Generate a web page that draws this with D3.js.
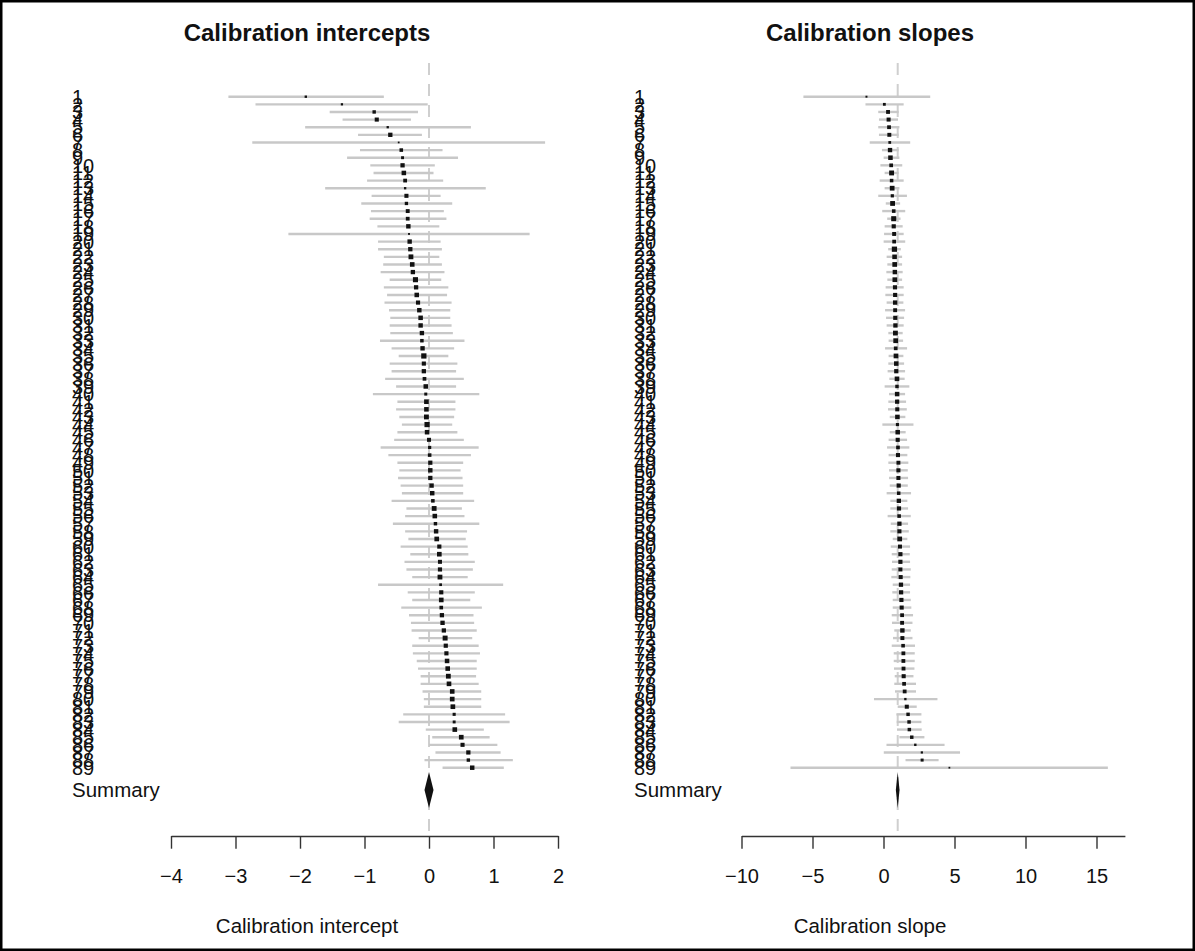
<!DOCTYPE html>
<html><head><meta charset="utf-8">
<script src="https://cdn.jsdelivr.net/npm/d3@7"></script>
<style>body{margin:0;background:#fff}svg{display:block}</style>
</head><body><svg id="c" width="1195" height="951"></svg>
<script>
// ---- data ----
const rowLabels = d3.range(1, 90).map(String);
const summaryLabel = "Summary";

const interceptEst = [-1.91,-1.35,-0.85,-0.81,-0.64,-0.60,-0.47,-0.43,-0.41,-0.41,
 -0.39,-0.37,-0.37,-0.35,-0.35,-0.33,-0.33,-0.32,-0.31,-0.30,
 -0.29,-0.28,-0.26,-0.25,-0.21,-0.20,-0.19,-0.17,-0.15,-0.13,
 -0.13,-0.11,-0.11,-0.10,-0.08,-0.08,-0.08,-0.07,-0.05,-0.05,
 -0.04,-0.04,-0.04,-0.03,-0.03,0.00,0.01,0.01,0.02,0.02,
 0.02,0.04,0.05,0.06,0.08,0.09,0.10,0.11,0.12,0.16,
 0.16,0.17,0.17,0.17,0.18,0.19,0.19,0.19,0.20,0.21,
 0.23,0.25,0.26,0.27,0.28,0.29,0.30,0.31,0.36,0.36,
 0.37,0.39,0.39,0.40,0.50,0.52,0.61,0.61,0.67];
const interceptLo = [-3.11,-2.69,-1.54,-1.34,-1.92,-1.10,-2.74,-1.07,-1.27,-0.91,
 -0.86,-0.96,-1.61,-0.89,-1.05,-0.90,-0.92,-0.80,-2.18,-0.79,
 -0.79,-0.70,-0.71,-0.75,-0.61,-0.70,-0.65,-0.69,-0.62,-0.60,
 -0.61,-0.60,-0.76,-0.58,-0.47,-0.61,-0.58,-0.68,-0.51,-0.87,
 -0.49,-0.51,-0.46,-0.42,-0.49,-0.54,-0.75,-0.63,-0.49,-0.46,
 -0.48,-0.44,-0.42,-0.58,-0.35,-0.37,-0.56,-0.37,-0.32,-0.44,
 -0.29,-0.38,-0.35,-0.26,-0.79,-0.33,-0.26,-0.43,-0.31,-0.28,
 -0.27,-0.16,-0.26,-0.25,-0.19,-0.17,-0.13,-0.13,-0.10,-0.08,
 -0.08,-0.40,-0.47,-0.05,0.05,0.00,0.10,-0.07,0.21];
const interceptHi = [-0.70,-0.02,-0.17,-0.28,0.65,-0.11,1.80,0.21,0.45,0.09,
 0.07,0.22,0.88,0.18,0.36,0.23,0.27,0.16,1.56,0.18,
 0.20,0.16,0.20,0.24,0.19,0.30,0.28,0.35,0.33,0.33,
 0.35,0.37,0.55,0.39,0.30,0.44,0.42,0.54,0.42,0.78,
 0.41,0.41,0.39,0.36,0.44,0.54,0.77,0.65,0.53,0.49,
 0.52,0.53,0.53,0.70,0.51,0.55,0.78,0.59,0.57,0.60,
 0.61,0.71,0.68,0.60,1.15,0.71,0.64,0.82,0.69,0.70,
 0.74,0.67,0.77,0.79,0.74,0.74,0.73,0.77,0.81,0.81,
 0.81,1.18,1.25,0.85,0.94,1.06,1.11,1.30,1.16];
const interceptSummary = [0.00, -0.07, 0.07]; // estimate, lower, upper

const slopeEst = [-1.20,0.06,0.32,0.36,0.39,0.41,0.44,0.46,0.49,0.54,
 0.57,0.57,0.61,0.62,0.64,0.72,0.72,0.72,0.75,0.75,
 0.77,0.78,0.79,0.80,0.80,0.81,0.82,0.82,0.82,0.83,
 0.84,0.84,0.86,0.86,0.88,0.90,0.90,0.95,0.95,0.96,
 0.96,0.97,0.98,0.98,1.00,1.00,1.02,1.02,1.05,1.05,
 1.05,1.07,1.07,1.08,1.09,1.10,1.12,1.12,1.14,1.16,
 1.19,1.19,1.19,1.21,1.23,1.24,1.26,1.28,1.31,1.31,
 1.33,1.33,1.38,1.40,1.40,1.41,1.42,1.45,1.49,1.54,
 1.64,1.73,1.80,1.82,1.99,2.24,2.70,2.72,4.64];
const slopeLo = [-5.64,-1.27,-0.37,-0.32,-0.37,-0.32,-0.97,-0.11,0.01,-0.22,
 0.08,-0.27,0.08,-0.37,0.16,-0.09,0.26,0.08,0.04,0.01,
 0.33,0.22,0.27,0.20,0.27,0.15,0.13,0.22,0.11,0.18,
 0.22,0.34,0.36,0.11,0.36,0.34,0.29,0.41,0.08,0.39,
 0.34,0.32,0.44,-0.08,0.44,0.36,0.25,0.36,0.34,0.39,
 0.39,0.44,0.22,0.48,0.48,0.29,0.51,0.48,0.65,0.51,
 0.58,0.60,0.58,0.55,0.65,0.62,0.65,0.65,0.58,0.60,
 0.76,0.67,0.58,0.72,0.72,0.74,0.79,0.76,0.81,-0.67,
 1.00,0.91,0.93,0.95,1.12,0.21,0.02,1.55,-6.55];
const slopeHi = [3.29,1.42,1.07,1.02,1.12,1.07,1.88,1.07,1.12,1.32,
 1.07,1.42,1.12,1.65,1.17,1.53,1.20,1.35,1.42,1.53,
 1.22,1.31,1.31,1.35,1.31,1.42,1.42,1.40,1.52,1.45,
 1.42,1.35,1.38,1.66,1.40,1.45,1.52,1.49,1.82,1.52,
 1.59,1.64,1.54,2.11,1.56,1.66,1.82,1.68,1.75,1.71,
 1.73,1.71,1.94,1.68,1.73,1.92,1.73,1.78,1.68,1.87,
 1.85,1.87,1.92,1.89,1.87,1.87,1.92,1.96,2.08,2.04,
 1.92,2.04,2.22,2.20,2.20,2.18,2.11,2.29,2.29,3.80,
 2.34,2.67,2.67,2.69,2.88,4.30,5.39,3.88,15.8];
const slopeSummary = [1.00, 0.87, 1.13];

const interceptTicks = [-4,-3,-2,-1,0,1,2];
const slopeTicks = [-10,-5,0,5,10,15];

// ---- drawing ----
const W = 1195, H = 951;
const svg = d3.select("#c");
svg.append("rect").attr("width", W).attr("height", H).attr("fill", "#fff");
svg.append("rect").attr("x", 1.25).attr("y", 1.25).attr("width", W - 2.5).attr("height", H - 2.5)
  .attr("fill", "none").attr("stroke", "#000").attr("stroke-width", 2.5);

const FONT = "'Liberation Sans', Arial, Helvetica, sans-serif";
const y = d3.scaleLinear().domain([1, 89]).range([96.7, 767.7]);
const summaryY = 790;
const axisY = 836;

function panel(cfg) {
  const g = svg.append("g");
  const x = d3.scaleLinear().domain(cfg.domain).range(cfg.range);

  g.append("text").attr("x", cfg.center).attr("y", 41).attr("text-anchor", "middle")
    .attr("font-family", FONT).attr("font-weight", "bold").attr("font-size", 24)
    .attr("fill", "#111").text(cfg.title);

  // reference line
  g.append("line").attr("x1", x(cfg.ref)).attr("x2", x(cfg.ref))
    .attr("y1", 63).attr("y2", axisY)
    .attr("stroke", "#cfcfcf").attr("stroke-width", 2).attr("stroke-dasharray", "12,9");

  // labels
  g.selectAll("text.lab").data(rowLabels).join("text").attr("class", "lab")
    .attr("x", cfg.labelX).attr("y", (d, i) => y(i + 1)).attr("dy", "0.36em")
    .attr("font-family", FONT).attr("font-size", 20).attr("fill", "#111").text(d => d);
  g.append("text").attr("x", cfg.labelX).attr("y", summaryY).attr("dy", "0.36em")
    .attr("font-family", FONT).attr("font-size", 20.5).attr("fill", "#111").text(summaryLabel);

  const rows = cfg.est.map((e, i) => ({ i, e, lo: cfg.lo[i], hi: cfg.hi[i] }));
  // bars
  g.selectAll("line.ci").data(rows).join("line").attr("class", "ci")
    .attr("x1", d => x(d.lo)).attr("x2", d => x(d.hi))
    .attr("y1", d => y(d.i + 1)).attr("y2", d => y(d.i + 1))
    .attr("stroke", "#c8c8c8").attr("stroke-width", 2.4);
  // point sizes from precision (metafor-style 0.5..1.5 scaling)
  const prec = rows.map(d => 1 / (d.hi - d.lo));
  const pmin = d3.min(prec), pmax = d3.max(prec);
  const base = 3.5;
  g.selectAll("rect.pt").data(rows).join("rect").attr("class", "pt")
    .each(function (d) {
      const s = base * (0.5 + (1 / (d.hi - d.lo) - pmin) / (pmax - pmin));
      d3.select(this).attr("x", x(d.e) - s / 2).attr("y", y(d.i + 1) - s / 2)
        .attr("width", s).attr("height", s);
    })
    .attr("fill", "#111");

  // summary diamond
  const [se, sl, sh] = cfg.summary;
  const hh = 18;
  g.append("path")
    .attr("d", `M${x(sl)},${summaryY}L${x(se)},${summaryY - hh}L${x(sh)},${summaryY}L${x(se)},${summaryY + hh}Z`)
    .attr("fill", "#111");

  // axis
  const ax = d3.axisBottom(x).tickValues(cfg.ticks).tickFormat(d3.format("d"))
    .tickSize(12.7).tickSizeOuter(0).tickPadding(20);
  const ag = g.append("g").attr("transform", `translate(0,${axisY})`).call(ax);
  ag.select(".domain").attr("stroke", "#333").attr("stroke-width", 1.4);
  ag.selectAll(".tick line").attr("stroke", "#333").attr("stroke-width", 1.4);
  ag.selectAll(".tick text").attr("font-family", FONT).attr("font-size", 20).attr("fill", "#111");

  g.append("text").attr("x", cfg.center).attr("y", 933).attr("text-anchor", "middle")
    .attr("font-family", FONT).attr("font-size", 20.5).attr("fill", "#111").text(cfg.axisTitle);
}

panel({
  title: "Calibration intercepts", axisTitle: "Calibration intercept",
  center: 307, labelX: 72, domain: [-4, 2], range: [171, 558], ref: 0,
  est: interceptEst, lo: interceptLo, hi: interceptHi, summary: interceptSummary,
  ticks: interceptTicks
});
panel({
  title: "Calibration slopes", axisTitle: "Calibration slope",
  center: 870, labelX: 634, domain: [-10, 17], range: [741.5, 741.5 + 27 * 14.2], ref: 1,
  est: slopeEst, lo: slopeLo, hi: slopeHi, summary: slopeSummary,
  ticks: slopeTicks
});
</script></body></html>
